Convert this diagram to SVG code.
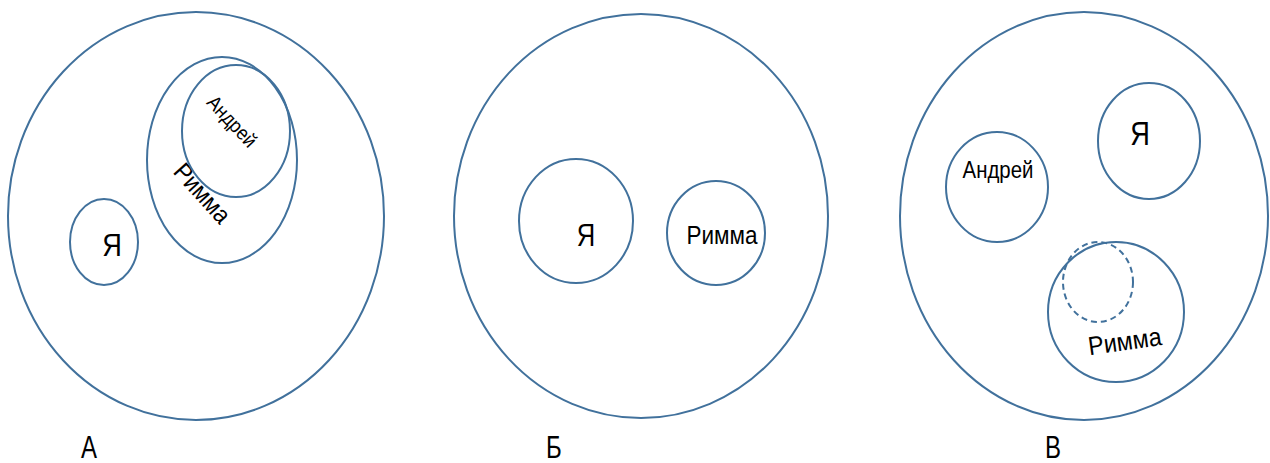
<svg xmlns="http://www.w3.org/2000/svg" width="1270" height="463" viewBox="0 0 1270 463">
<style>
.c{fill:none;stroke:#41719C;stroke-width:2}
.d{fill:none;stroke:#41719C;stroke-width:2;stroke-dasharray:6 4}
.t{font-family:"Liberation Sans",Arial,sans-serif;fill:#000}
</style>
<rect width="1270" height="463" fill="#fff"/>
<g id="A">
<ellipse class="c" cx="196" cy="216" rx="188" ry="204"/>
<g id="A-rimma">
<ellipse class="c" cx="222" cy="160" rx="75" ry="103"/>
<text class="t" font-size="25" text-anchor="middle" transform="translate(196,199) rotate(48) scale(0.9,1)">Римма</text>
</g>
<g id="A-andrei">
<ellipse class="c" cx="236" cy="131" rx="54" ry="66"/>
<text class="t" font-size="20" text-anchor="middle" transform="translate(227,126) rotate(47) scale(0.9,1)">Андрей</text>
</g>
<g id="A-ya">
<ellipse class="c" cx="104" cy="242" rx="34" ry="43"/>
<text class="t" font-size="32" text-anchor="middle" transform="translate(112,256) scale(0.85,1)">Я</text>
</g>
<text class="t" font-size="32" text-anchor="middle" transform="translate(89,458) scale(0.75,1)">А</text>
</g>
<g id="B">
<ellipse class="c" cx="641" cy="216" rx="187" ry="202"/>
<g id="B-ya">
<ellipse class="c" cx="576" cy="221" rx="57" ry="62"/>
<text class="t" font-size="32" text-anchor="middle" transform="translate(586,246) scale(0.8,1)">Я</text>
</g>
<g id="B-rimma">
<ellipse class="c" cx="716" cy="233" rx="49" ry="52"/>
<text class="t" font-size="25" text-anchor="middle" transform="translate(722,244) scale(0.9,1)">Римма</text>
</g>
<text class="t" font-size="32" text-anchor="middle" transform="translate(554,458) scale(0.75,1)">Б</text>
</g>
<g id="V">
<ellipse class="c" cx="1084" cy="216" rx="184" ry="204"/>
<g id="V-andrei">
<ellipse class="c" cx="997" cy="187" rx="51" ry="55"/>
<text class="t" font-size="24" text-anchor="middle" transform="translate(998,178) scale(0.85,1)">Андрей</text>
</g>
<g id="V-ya">
<ellipse class="c" cx="1149" cy="141" rx="51" ry="58"/>
<text class="t" font-size="34" text-anchor="middle" transform="translate(1140,145) scale(0.8,1)">Я</text>
</g>
<g id="V-rimma">
<ellipse class="c" cx="1116" cy="312" rx="68" ry="70"/>
<ellipse class="d" cx="1098" cy="282" rx="35" ry="40"/>
<text class="t" font-size="26" text-anchor="middle" transform="translate(1126,350) rotate(-8) scale(0.9,1)">Римма</text>
</g>
<text class="t" font-size="32" text-anchor="middle" transform="translate(1053,458) scale(0.75,1)">В</text>
</g>
</svg>
